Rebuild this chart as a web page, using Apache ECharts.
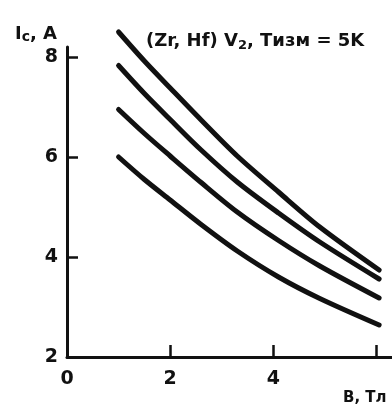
<!DOCTYPE html>
<html>
<head>
<meta charset="utf-8">
<script src="https://cdn.jsdelivr.net/npm/echarts@6/dist/echarts.min.js"></script>
<style>
  html, body { margin: 0; padding: 0; background: #fff; }
  #chart { width: 392px; height: 407px; }
</style>
</head>
<body>
<div id="chart"></div>
<script>
// B, Тл
var bValues = [1.0, 1.5, 2.0, 2.6, 3.3, 4.1, 4.9, 6.05];
// Ic, A — четыре кривые сверху вниз
var curve1 = [8.50, 7.92, 7.38, 6.74, 6.02, 5.30, 4.60, 3.74];
var curve2 = [7.83, 7.27, 6.75, 6.14, 5.50, 4.88, 4.30, 3.56];
var curve3 = [6.95, 6.47, 6.02, 5.49, 4.90, 4.33, 3.82, 3.18];
var curve4 = [6.00, 5.55, 5.14, 4.65, 4.12, 3.60, 3.17, 2.64];

var yTicks = [2, 4, 6, 8];
var xTicks = [2, 4, 6];
var xLabels = [0, 2, 4];

function pairs(ys) {
    return bValues.map(function (b, i) { return [b, ys[i]]; });
}

var ink = '#111';
var font = 'DejaVu Sans';

var myChart = echarts.init(document.getElementById('chart'));

function lineSeries(ys) {
    return {
        type: 'line',
        data: pairs(ys),
        smooth: 0.3,
        showSymbol: false,
        clip: false,
        lineStyle: { color: ink, width: 5, cap: 'round' }
    };
}

myChart.setOption({
    animation: false,
    backgroundColor: '#fff',
    title: [
        {
            text: '(Zr, Hf) V{s|2}, Tизм = 5K',
            left: 141, top: 26,
            textStyle: {
                fontFamily: font, fontWeight: 'bold', fontSize: 18, color: ink,
                rich: { s: { fontFamily: font, fontWeight: 'bold', fontSize: 13, color: ink, padding: [8, 0, 0, 0] } }
            }
        },
        {
            text: 'I{s|c}, A',
            left: 10, top: 19,
            textStyle: {
                fontFamily: font, fontWeight: 'bold', fontSize: 18, color: ink,
                rich: { s: { fontFamily: font, fontWeight: 'bold', fontSize: 14, color: ink, padding: [6, 0, 0, 0] } }
            }
        },
        {
            text: 'B, Тл',
            left: 338, top: 386,
            textStyle: { fontFamily: font, fontWeight: 'bold', fontSize: 15, color: ink }
        }
    ],
    grid: { left: 67, right: 0, top: 47, bottom: 50 },
    xAxis: {
        type: 'value',
        min: 0,
        max: 6.3,
        axisLine: { lineStyle: { color: ink, width: 3 } },
        axisTick: { inside: true, length: 12, customValues: xTicks, lineStyle: { color: ink, width: 2.5 } },
        axisLabel: {
            customValues: xLabels, margin: 13,
            fontFamily: font, fontWeight: 'bold', fontSize: 19, color: ink
        },
        splitLine: { show: false }
    },
    yAxis: {
        type: 'value',
        min: 2,
        max: 8.2,
        axisLine: { show: true, lineStyle: { color: ink, width: 3 } },
        axisTick: { show: true, inside: true, length: 11, customValues: [4, 6, 8], lineStyle: { color: ink, width: 2.5 } },
        axisLabel: {
            customValues: yTicks, margin: 9,
            fontFamily: font, fontWeight: 'bold', fontSize: 19, color: ink
        },
        splitLine: { show: false }
    },
    series: [
        lineSeries(curve1),
        lineSeries(curve2),
        lineSeries(curve3),
        lineSeries(curve4)
    ]
});
</script>
</body>
</html>
